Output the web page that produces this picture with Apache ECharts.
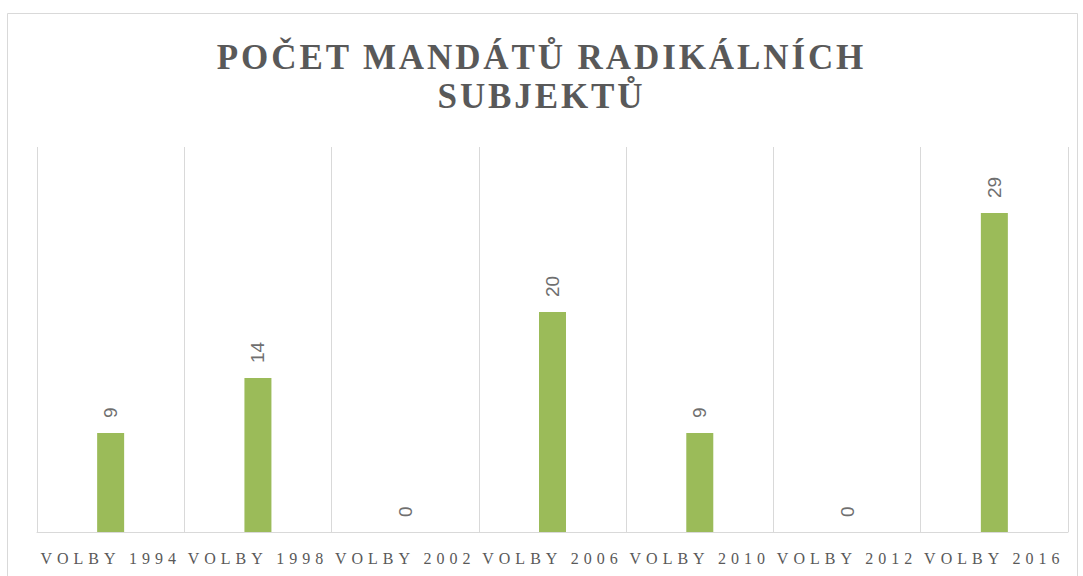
<!DOCTYPE html>
<html><head><meta charset="utf-8">
<script src="https://cdn.jsdelivr.net/npm/echarts@6/dist/echarts.min.js"></script>
<style>html,body{margin:0;padding:0;background:#fff}#c{width:1083px;height:576px}</style>
</head><body><div id="c"></div>
<script>
const titleLines = ['POČET MANDÁTŮ RADIKÁLNÍCH', 'SUBJEKTŮ'];
const categories = ['VOLBY 1994','VOLBY 1998','VOLBY 2002','VOLBY 2006','VOLBY 2010','VOLBY 2012','VOLBY 2016'];
const seats = [9, 14, 0, 20, 9, 0, 29];

const chart = echarts.init(document.getElementById('c'), null, {renderer: 'svg'});
chart.setOption({
  animation: false,
  backgroundColor: '#fff',
  title: {
    text: titleLines.join('\n'),
    left: 'center', top: 33,
    textStyle: {fontFamily: 'Liberation Serif', fontWeight: 'bold', fontSize: 35, color: '#595959', lineHeight: 39}
  },
  graphic: [{type: 'rect', shape: {x: 7.5, y: 13.5, width: 1070, height: 580}, style: {fill: 'none', stroke: '#d9d9d9', lineWidth: 1}, silent: true, z: -1}],
  grid: {left: 37, right: 15, top: 147, bottom: 44},
  xAxis: {
    type: 'category', data: categories,
    axisLine: {lineStyle: {color: '#d9d9d9'}},
    axisTick: {show: false},
    splitLine: {show: true, lineStyle: {color: '#d9d9d9', width: 1}},
    axisLabel: {fontFamily: 'Liberation Serif', fontSize: 16, color: '#595959', margin: 18, interval: 0}
  },
  yAxis: {type: 'value', min: 0, max: 35, show: false, splitLine: {show: false}},
  series: [{
    type: 'bar', data: seats, barWidth: 27,
    itemStyle: {color: '#9bbb59'},
    label: {show: true, position: 'top', rotate: 90, align: 'left', verticalAlign: 'middle', distance: 15,
      fontFamily: 'Liberation Sans', fontSize: 19, color: '#6f6f6f'}
  }]
});
function spacing(){
  document.querySelectorAll('#c svg text').forEach(t => {
    const txt = t.textContent;
    if (categories.includes(txt)) t.style.letterSpacing = '5px';
    else if (titleLines.includes(txt)) t.style.letterSpacing = '2.9px';
  });
}
spacing();
chart.on('finished', spacing);
</script></body></html>
